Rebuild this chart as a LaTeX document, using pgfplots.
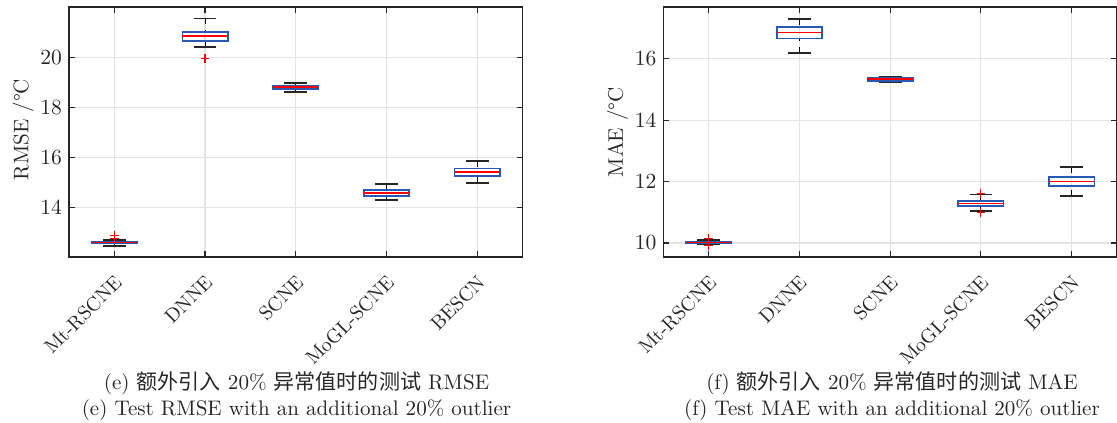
\documentclass[border=0pt]{standalone}
\usepackage{fontspec}
\usepackage{pgfplots}
\pgfplotsset{compat=1.18}
\usepgfplotslibrary{statistics}
\newfontfamily\cjk{Noto Sans CJK SC}
\definecolor{boxblue}{RGB}{40,90,180}
\definecolor{axgray}{RGB}{38,38,38}
\newcommand\fs{\fontsize{10.7}{13}\selectfont}
\newcommand\fx{\fontsize{10}{12}\selectfont}
\pgfplotsset{
  myax/.style={
    scale only axis, width=230.3pt, height=126.9pt,
    xmin=0.5, xmax=5.5, xtick={1,2,3,4,5},
    xticklabels={Mt-RSCNE,DNNE,SCNE,MoGL-SCNE,BESCN},
    tick label style={font=\fs, text=axgray},
    xticklabel style={yshift=-7pt, xshift=-0.5pt, rotate=45, anchor=north east, inner sep=1pt, font=\fx},
    label style={font=\fs, text=axgray},
    tick align=inside, xtick pos=both, ytick pos=both,
    grid=major, grid style={black!11, line width=0.6pt},
    axis line style={axgray, line width=0.7pt},
    major tick length=3pt,
    every tick/.style={axgray, line width=0.6pt},
    ylabel style={at={(axis description cs:-0.101,0.51)}, anchor=center},
    boxplot/draw direction=y,
    boxplot/box extend=0.5,
    boxplot/whisker extend=0.25,
    boxplot/every box/.style={draw=boxblue, line width=0.8pt},
    boxplot/every median/.style={draw=red, line width=0.8pt},
    boxplot/draw/lower whisker/.code={%
      \draw[black, dashed, line width=0.5pt]
        (boxplot box cs:\pgfplotsboxplotvalue{lower whisker},0.5) --
        (boxplot box cs:\pgfplotsboxplotvalue{lower quartile},0.5);
      \draw[black!85, line width=0.8pt]
        (boxplot whisker cs:\pgfplotsboxplotvalue{lower whisker},0) --
        (boxplot whisker cs:\pgfplotsboxplotvalue{lower whisker},1);
    },
    boxplot/draw/upper whisker/.code={%
      \draw[black, dashed, line width=0.5pt]
        (boxplot box cs:\pgfplotsboxplotvalue{upper whisker},0.5) --
        (boxplot box cs:\pgfplotsboxplotvalue{upper quartile},0.5);
      \draw[black!85, line width=0.8pt]
        (boxplot whisker cs:\pgfplotsboxplotvalue{upper whisker},0) --
        (boxplot whisker cs:\pgfplotsboxplotvalue{upper whisker},1);
    },
  },
  bx/.style={red, mark=+, mark size=2.2pt, mark options={solid, line width=0.6pt}},
}
\begin{document}
\begin{tikzpicture}
\useasboundingbox (0,0) rectangle (567pt,-214.7pt);
% ---------- (e) RMSE ----------
\begin{axis}[myax, at={(35pt,-130.5pt)}, anchor=south west,
  ymin=12, ymax=22, ytick={14,16,18,20}, ylabel={RMSE /°C}]
\addplot[bx, boxplot prepared={draw position=1, lower whisker=12.45, lower quartile=12.56, median=12.59, upper quartile=12.62, upper whisker=12.68}]
  table[row sep=\\, y index=0] {v\\ 12.76\\ 12.88\\};
\addplot[bx, boxplot prepared={draw position=2, lower whisker=20.41, lower quartile=20.64, median=20.85, upper quartile=21.01, upper whisker=21.55}]
  table[row sep=\\, y index=0] {v\\ 19.95\\};
\addplot[bx, boxplot prepared={draw position=3, lower whisker=18.61, lower quartile=18.72, median=18.80, upper quartile=18.85, upper whisker=18.97}]
  coordinates {};
\addplot[bx, boxplot prepared={draw position=4, lower whisker=14.29, lower quartile=14.44, median=14.57, upper quartile=14.68, upper whisker=14.93}]
  coordinates {};
\addplot[bx, boxplot prepared={draw position=5, lower whisker=14.96, lower quartile=15.25, median=15.40, upper quartile=15.55, upper whisker=15.85}]
  coordinates {};
\end{axis}
% ---------- (f) MAE ----------
\begin{axis}[myax, at={(336.7pt,-130.5pt)}, anchor=south west,
  ymin=9.54, ymax=17.68, ytick={10,12,14,16}, ylabel={MAE /°C},
  ylabel style={at={(axis description cs:-0.101,0.50)}}]
\addplot[bx, boxplot prepared={draw position=1, lower whisker=9.96, lower quartile=9.99, median=10.02, upper quartile=10.05, upper whisker=10.10}]
  table[row sep=\\, y index=0] {v\\ 10.14\\ 9.92\\};
\addplot[bx, boxplot prepared={draw position=2, lower whisker=16.18, lower quartile=16.66, median=16.85, upper quartile=17.04, upper whisker=17.30}]
  coordinates {};
\addplot[bx, boxplot prepared={draw position=3, lower whisker=15.23, lower quartile=15.27, median=15.33, upper quartile=15.38, upper whisker=15.42}]
  coordinates {};
\addplot[bx, boxplot prepared={draw position=4, lower whisker=11.04, lower quartile=11.21, median=11.29, upper quartile=11.37, upper whisker=11.58}]
  table[row sep=\\, y index=0] {v\\ 11.62\\ 11.00\\};
\addplot[bx, boxplot prepared={draw position=5, lower whisker=11.52, lower quartile=11.86, median=12.00, upper quartile=12.15, upper whisker=12.47}]
  coordinates {};
\end{axis}
% ---------- captions ----------
\node[anchor=center, text=axgray, font=\fs] at (150.5pt,-194.4pt) {(e) {\cjk 额外引入} 20\% {\cjk 异常值时的测试} RMSE};
\node[anchor=center, text=axgray, font=\fs] at (150.5pt,-208.1pt) {(e) Test RMSE with an additional 20\% outlier};
\node[anchor=center, text=axgray, font=\fs] at (452.8pt,-194.4pt) {(f) {\cjk 额外引入} 20\% {\cjk 异常值时的测试} MAE};
\node[anchor=center, text=axgray, font=\fs] at (452.8pt,-208.1pt) {(f) Test MAE with an additional 20\% outlier};
\end{tikzpicture}
\end{document}
